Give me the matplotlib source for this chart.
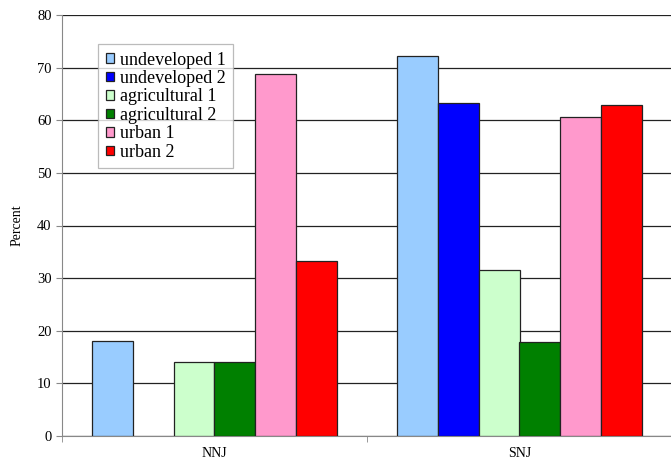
import numpy as np
import matplotlib.pyplot as plt

plt.rcParams['font.family'] = ['Liberation Serif', 'DejaVu Serif']

regions = ['NNJ', 'SNJ']
series = ['undeveloped 1', 'undeveloped 2', 'agricultural 1',
          'agricultural 2', 'urban 1', 'urban 2']
undeveloped_1 = [18.1, 72.2]
undeveloped_2 = [np.nan, 63.2]
agricultural_1 = [14.1, 31.6]
agricultural_2 = [14.1, 17.9]
urban_1 = [68.8, 60.7]
urban_2 = [33.3, 62.9]
colors = ['#99CCFF', '#0000FF', '#CCFFCC', '#008000', '#FF99CC', '#FF0000']

values = [undeveloped_1, undeveloped_2, agricultural_1,
          agricultural_2, urban_1, urban_2]

fig = plt.figure(figsize=(6.71, 4.66), dpi=100)
ax = fig.add_axes([62 / 671, 1 - 436 / 466, 610 / 671, 421 / 466])

x = np.arange(len(regions))
width = 0.134
for i, (name, vals, c) in enumerate(zip(series, values, colors)):
    ax.bar(x + (i - 2.5) * width, vals, width, color=c, edgecolor='#222222',
           linewidth=0.9, label=name, zorder=3)

ax.set_xlim(-0.5, 1.5)
ax.set_ylim(0, 80)
ax.set_yticks(range(0, 81, 10))
ax.yaxis.grid(True, color='#222222', linewidth=0.9, zorder=0)
ax.set_xticks(x)
ax.set_xticklabels(regions, fontsize=10)
ax.tick_params(axis='x', length=0, pad=8)
ax.set_xticks([-0.5, 0.5, 1.5], minor=True)
ax.tick_params(axis='x', which='minor', length=4, color='#888888')
ax.tick_params(axis='y', labelsize=10.5, length=4, color='#888888')
ax.set_ylabel('Percent', fontsize=10, labelpad=10)

for side in ['top', 'right']:
    ax.spines[side].set_visible(False)
for side in ['left', 'bottom']:
    ax.spines[side].set_color('#888888')

leg = ax.legend(loc='upper left', bbox_to_anchor=(36 / 610, 1 - 29 / 421),
                fontsize=13, frameon=True, fancybox=False,
                handlelength=0.45, handleheight=0.45, handletextpad=0.35,
                labelspacing=0.08, borderpad=0.42, borderaxespad=0)
leg.get_frame().set_edgecolor('#aaaaaa')
leg.get_frame().set_linewidth(0.9)

fig.savefig('out.png', dpi=100)
